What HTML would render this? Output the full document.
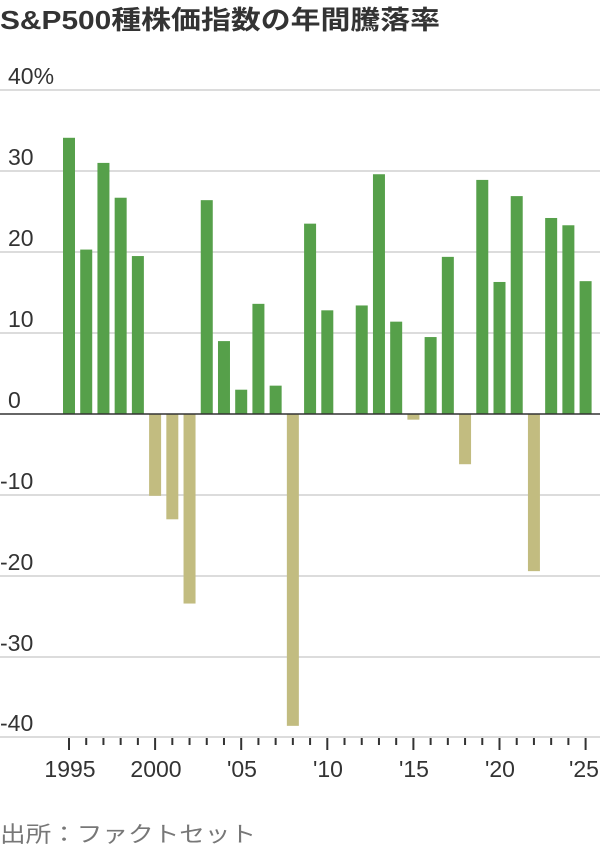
<!DOCTYPE html>
<html><head><meta charset="utf-8"><style>
body{margin:0;background:#fff;width:600px;height:850px;overflow:hidden}
svg text{font-family:"Liberation Sans","Noto Sans CJK JP",sans-serif}
</style></head><body>
<svg width="600" height="850" viewBox="0 0 600 850">
<text x="0" y="29" font-size="26" font-weight="bold" fill="#333" textLength="440" lengthAdjust="spacingAndGlyphs">S&amp;P500種株価指数の年間騰落率</text>
<g stroke="#dcdcdc" stroke-width="2">
<line x1="0" x2="600" y1="90" y2="90"/><line x1="0" x2="600" y1="171" y2="171"/>
<line x1="0" x2="600" y1="252" y2="252"/><line x1="0" x2="600" y1="333" y2="333"/>
<line x1="0" x2="600" y1="495" y2="495"/><line x1="0" x2="600" y1="576" y2="576"/>
<line x1="0" x2="600" y1="657" y2="657"/><line x1="0" x2="600" y1="737" y2="737"/>
</g>
<g font-size="23" fill="#333">
<text x="8" y="84">40%</text><text x="8" y="165">30</text><text x="8" y="246">20</text>
<text x="8" y="327">10</text><text x="8" y="408">0</text><text x="0" y="489">-10</text>
<text x="0" y="570">-20</text><text x="0" y="651">-30</text><text x="0" y="731">-40</text>
</g>
<g id="bars"></g>
<line x1="0" x2="600" y1="414" y2="414" stroke="#333" stroke-width="1.5"/>
<g id="ticks" stroke="#333" stroke-width="2"></g>
<g font-size="23" fill="#333" text-anchor="middle">
<text x="70" y="777">1995</text><text x="156" y="777">2000</text><text x="242" y="777">'05</text>
<text x="328" y="777">'10</text><text x="414" y="777">'15</text><text x="500" y="777">'20</text><text x="584" y="777">'25</text>
</g>
<text x="0" y="842" font-size="22" fill="#777" textLength="256" lengthAdjust="spacingAndGlyphs">出所：ファクトセット</text>
<script>
var v=[34.1,20.3,31.0,26.7,19.5,-10.1,-13.0,-23.4,26.4,9.0,3.0,13.6,3.5,-38.5,23.5,12.8,0,13.4,29.6,11.4,-0.7,9.5,19.4,-6.2,28.9,16.3,26.9,-19.4,24.2,23.3,16.4];
var ns="http://www.w3.org/2000/svg",b=document.getElementById("bars"),t=document.getElementById("ticks");
for(var i=0;i<31;i++){var cx=69+i*17.22,h=v[i]*8.1;
if(v[i]!==0){var r=document.createElementNS(ns,"rect");r.setAttribute("x",cx-6);r.setAttribute("width",12);
r.setAttribute("y",h>0?414-h:414);r.setAttribute("height",Math.abs(h));r.setAttribute("fill",h>0?"#56a04a":"#c2bc80");b.appendChild(r);}
var l=document.createElementNS(ns,"line");l.setAttribute("x1",cx);l.setAttribute("x2",cx);l.setAttribute("y1",738);l.setAttribute("y2",i%5==0?750:745);t.appendChild(l);}
</script>
</svg>
</body></html>
